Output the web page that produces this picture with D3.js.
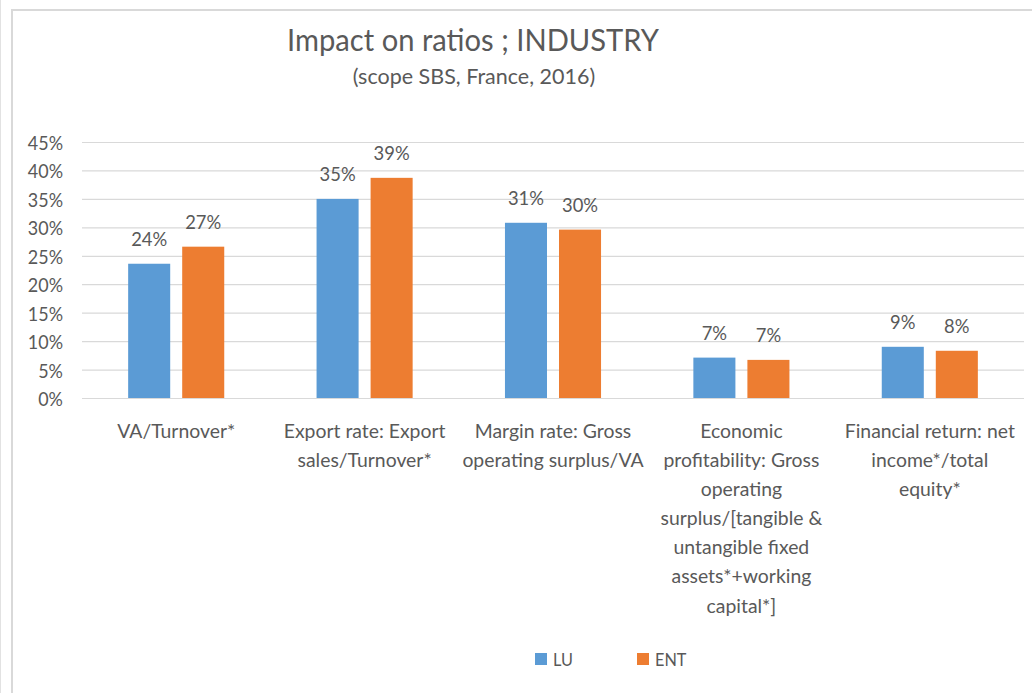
<!DOCTYPE html>
<html>
<head>
<meta charset="utf-8">
<script src="https://cdn.jsdelivr.net/npm/d3@7"></script>
<style>
  html, body { margin: 0; padding: 0; background: #fff; }
  svg text { font-family: Lato, "Open Sans", "DejaVu Sans", sans-serif; fill: #595959; }
</style>
</head>
<body>
<svg id="chart" width="1032" height="693"></svg>
<script>
// ---- data ----
const chartTitle = "Impact on ratios ; INDUSTRY";
const chartSubtitle = "(scope SBS, France, 2016)";
const categories = [
  "VA/Turnover*",
  "Export rate: Export\nsales/Turnover*",
  "Margin rate: Gross\noperating surplus/VA",
  "Economic\nprofitability: Gross\noperating\nsurplus/[tangible &\nuntangible fixed\nassets*+working\ncapital*]",
  "Financial return: net\nincome*/total\nequity*"
];
const seriesNames = ["LU", "ENT"];
const luValues  = [0.236, 0.350, 0.308, 0.071, 0.090];
const entValues = [0.266, 0.387, 0.296, 0.067, 0.083];
const yTickValues = [0, 0.05, 0.10, 0.15, 0.20, 0.25, 0.30, 0.35, 0.40, 0.45];
const seriesColors = ["#5b9bd5", "#ed7d31"];

// ---- layout ----
const W = 1032, H = 693;
const plot = { left: 82, right: 1024, top: 142, bottom: 398 };
const sx = 0.92;              // horizontal text compression
const pct = d3.format(".0%");

const svg = d3.select("#chart");

// outer frame
svg.append("rect").attr("x", 0).attr("y", 0).attr("width", 1).attr("height", H).attr("fill", "#e2e2e2");
svg.append("path")
  .attr("d", `M12,${H} V10 H${W}`)
  .attr("fill", "none").attr("stroke", "#d9d9d9").attr("stroke-width", 2);

// titles
svg.append("text")
  .attr("transform", `translate(473,51) scale(${sx},1)`)
  .attr("text-anchor", "middle").style("font-size", "31.7px")
  .text(chartTitle);
svg.append("text")
  .attr("transform", `translate(474,84) scale(1.0,1)`)
  .attr("text-anchor", "middle").style("font-size", "21.5px")
  .text(chartSubtitle);

// scales
const y = d3.scaleLinear().domain([0, 0.45]).range([plot.bottom, plot.top]);
const x0 = d3.scaleBand().domain(categories).range([plot.left, plot.right])
  .paddingInner(0.49).paddingOuter(0.245);
const x1 = d3.scaleBand().domain(seriesNames).range([0, x0.bandwidth()]).paddingInner(0.222);
const color = d3.scaleOrdinal().domain(seriesNames).range(seriesColors);

// y axis with gridlines
const yAxis = svg.append("g")
  .attr("transform", `translate(${plot.left},0)`)
  .call(d3.axisLeft(y).tickValues(yTickValues).tickFormat(pct)
    .tickSize(-(plot.right - plot.left)).tickPadding(0));
yAxis.select(".domain").remove();
yAxis.selectAll(".tick line").attr("stroke", "#d9d9d9").attr("stroke-width", 1.2);
yAxis.selectAll(".tick text")
  .attr("x", null).attr("dy", null)
  .attr("transform", `translate(-19,7.5) scale(${sx},1)`)
  .attr("text-anchor", "end")
  .style("font-size", "19.5px").style("font-family", null);
yAxis.attr("font-family", null).attr("font-size", null);

// x axis labels
const xAxis = svg.append("g")
  .attr("transform", `translate(0,${plot.bottom})`)
  .call(d3.axisBottom(x0).tickSize(0).tickPadding(0));
xAxis.select(".domain").remove();
xAxis.attr("font-family", null).attr("font-size", null);
xAxis.selectAll(".tick text").each(function(d) {
  const t = d3.select(this);
  t.text(null).attr("y", null).attr("dy", null)
    .attr("transform", `translate(0,39.5) scale(0.97,1)`)
    .attr("text-anchor", "middle")
    .style("font-size", "20px");
  d.split("\n").forEach((line, i) => {
    t.append("tspan").attr("x", 0).attr("y", i * 29.2).text(line);
  });
});

// bars
const rows = categories.map((c, i) => ({ cat: c, vals: [
  { s: seriesNames[0], v: luValues[i] },
  { s: seriesNames[1], v: entValues[i] }
]}));

const groups = svg.append("g").selectAll("g").data(rows).join("g")
  .attr("transform", d => `translate(${x0(d.cat)},0)`);

groups.selectAll("rect").data(d => d.vals).join("rect")
  .attr("x", d => x1(d.s))
  .attr("y", d => y(d.v))
  .attr("width", x1.bandwidth())
  .attr("height", d => y(0) - y(d.v))
  .attr("fill", d => color(d.s));

groups.selectAll("text.val").data(d => d.vals).join("text")
  .attr("class", "val")
  .attr("transform", d => `translate(${x1(d.s) + x1.bandwidth() / 2},${y(d.v) - 18}) scale(${sx},1)`)
  .attr("text-anchor", "middle")
  .style("font-size", "20px")
  .text(d => pct(d.v));

// legend
const legend = svg.append("g").attr("transform", "translate(535,653)");
const items = legend.selectAll("g").data(seriesNames).join("g")
  .attr("transform", (d, i) => `translate(${i * 102},0)`);
items.append("rect").attr("width", 12).attr("height", 12).attr("fill", d => color(d));
items.append("text")
  .attr("transform", `translate(18,13) scale(${sx},1)`)
  .style("font-size", "17.7px")
  .text(d => d);
</script>
</body>
</html>
